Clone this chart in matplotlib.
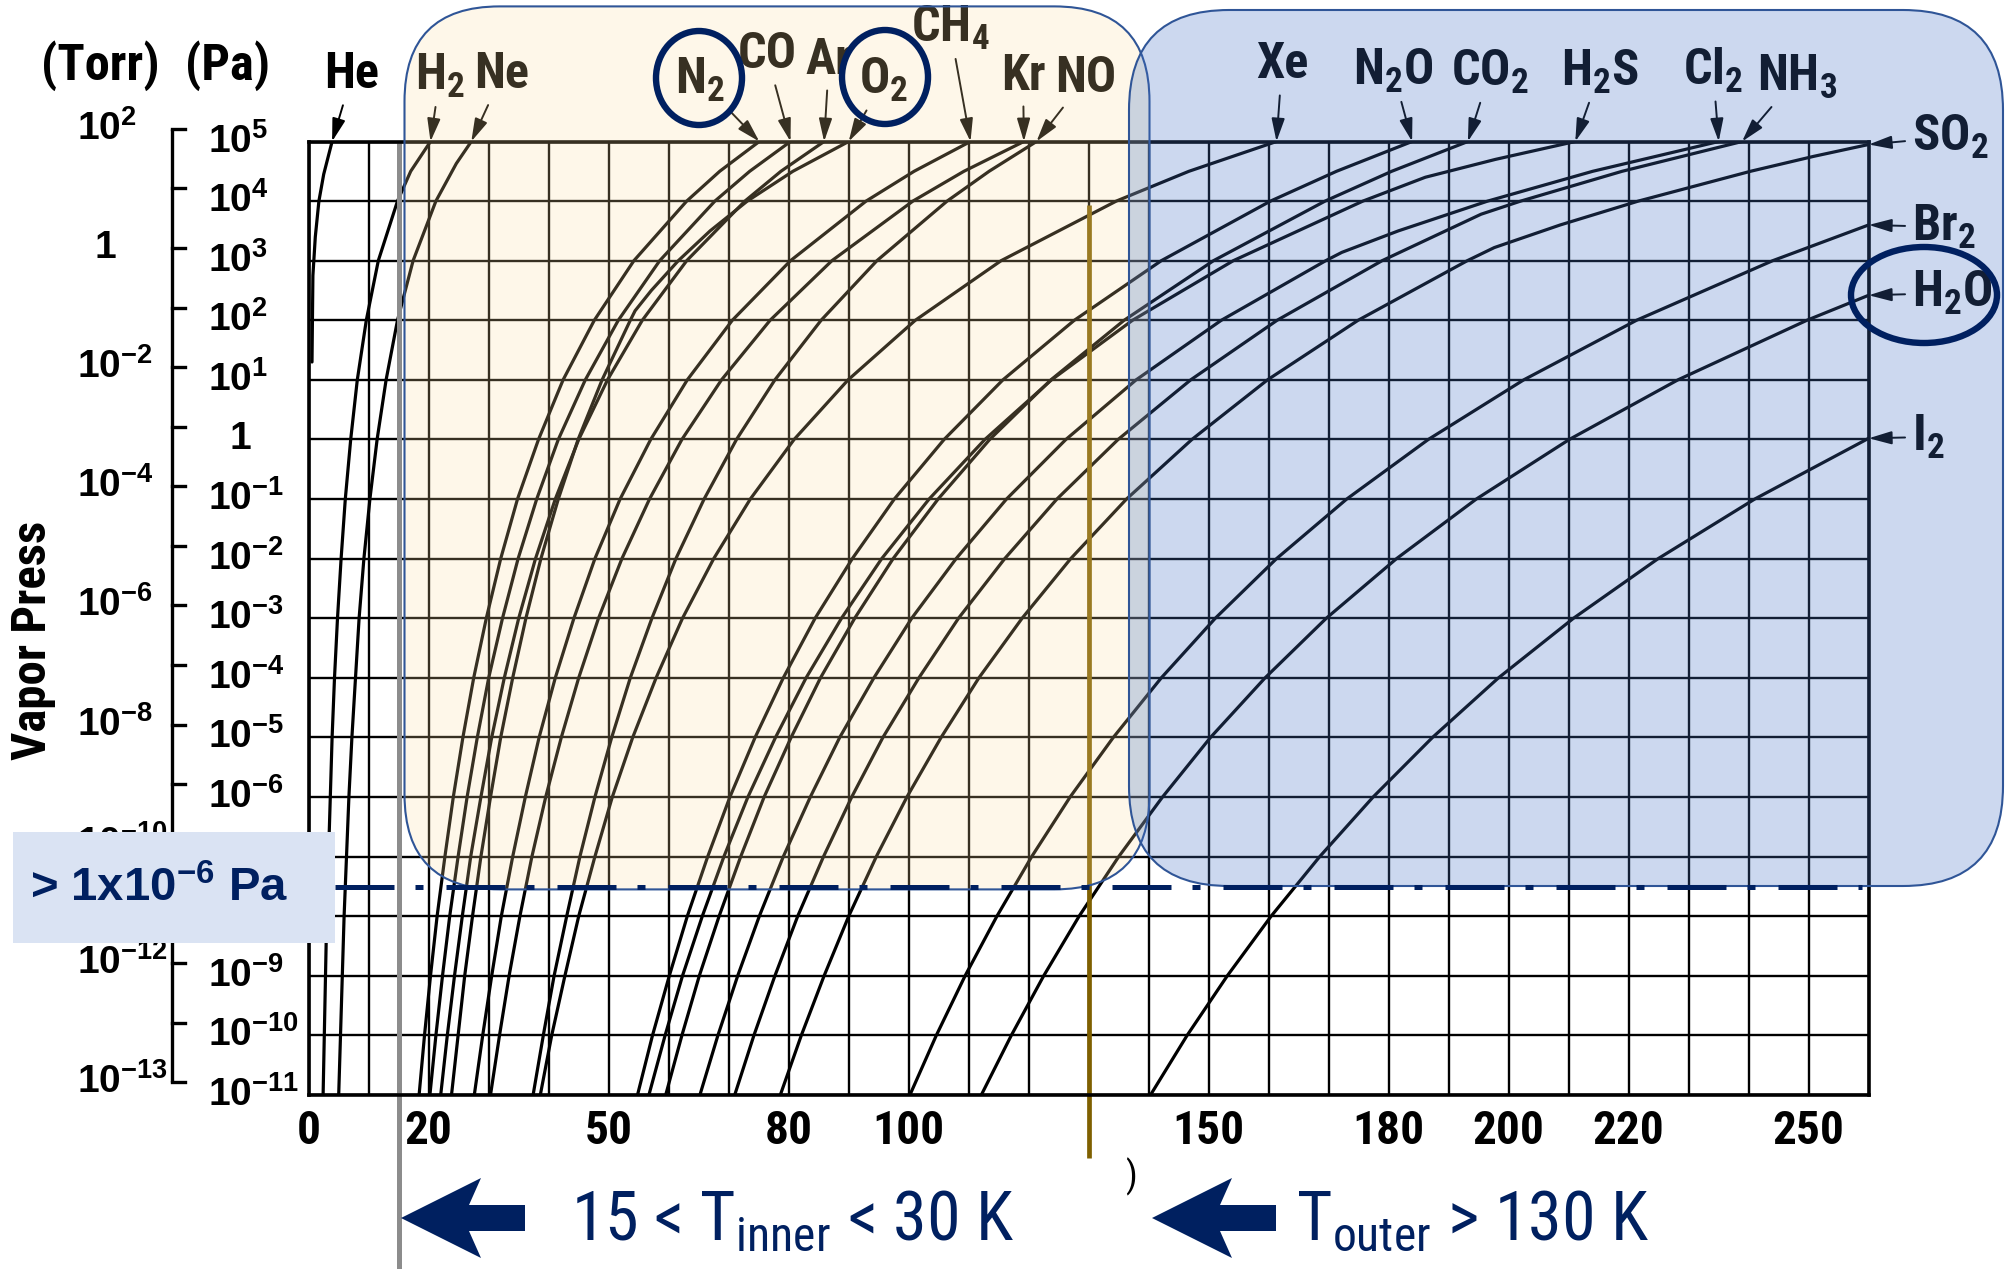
import os
import numpy as np
import matplotlib
matplotlib.use("Agg")
import matplotlib.pyplot as plt
from matplotlib import font_manager
from matplotlib.font_manager import FontProperties
from matplotlib.patches import FancyBboxPatch, Ellipse, Polygon, Rectangle
from matplotlib.ticker import FixedLocator, NullFormatter, NullLocator

W, H = 2007, 1269

# ---------------- data ----------------
# log10(vapour pressure / Pa) levels at which the temperatures (K) were read
log_p = [5, 4, 3, 2, 1, 0, -1, -2, -3, -4, -5, -6, -7, -8, -9, -10, -11]
log_p_top = [5, 4.5] + log_p[1:]

he_t = [3.9, 2.5, 1.7, 1.1, 0.7, 0.55]
he_p = [5.0, 4.45, 4.0, 3.4, 2.75, 1.3]

h2_t = [20.3, 17.0, 14.8, 11.6, 9.6, 8.1, 7.0, 6.1, 5.4, 4.8, 4.3, 3.9, 3.6, 3.3, 3.0, 2.8, 2.6, 2.4]
h2_p = log_p_top

ne_t = [27.1, 24.6, 21.2, 17.4, 14.8, 12.9, 11.4, 10.2, 9.2, 8.4, 7.8, 7.2, 6.7, 6.3, 5.9, 5.6, 5.3, 5.0]
ne_p = [5, 4.63] + log_p[1:]

n2_t = [75.1, 68.5, 63.0, 54.2, 47.6, 42.4, 38.3, 34.8, 32.0, 29.6, 27.5, 25.7, 24.1, 22.7, 21.4, 20.3, 19.3, 18.4]
co_t = [80.3, 73.5, 67.7, 58.5, 51.6, 46.1, 41.6, 38.0, 34.9, 32.3, 30.0, 28.1, 26.4, 24.9, 23.5, 22.3, 21.2, 20.2]
ar_t = [85.9, 78.7, 72.7, 63.0, 55.6, 49.8, 45.0, 41.1, 37.8, 35.0, 32.6, 30.5, 28.7, 27.0, 25.6, 24.3, 23.1, 22.0]

o2_t = [90.0, 80.7, 73.1, 66.9, 61.6, 57.1, 54.4, 53.6, 48.9, 44.9, 41.6, 38.7, 36.2, 34.0, 32.0,
        30.3, 28.7, 27.3, 26.0, 24.9, 23.8]
o2_p = [5, 4.5, 4, 3.5, 3, 2.5, 2.16] + log_p[3:]

ch4_t = [110.3, 100.9, 92.9, 80.3, 70.6, 63.1, 57.0, 51.9, 47.7, 44.2, 41.1, 38.4, 36.1, 34.0, 32.1, 30.5, 29.0, 27.6]
kr_t = [119.2, 109.2, 100.7, 87.2, 76.9, 68.8, 62.2, 56.8, 52.2, 48.3, 45.0, 42.1, 39.5, 37.2, 35.2, 33.4, 31.8, 30.3]
no_t = [121.3, 113.4, 106.4, 94.7, 85.4, 77.7, 71.3, 65.9, 61.2, 57.2, 53.6, 50.5, 47.7, 45.2, 43.0, 40.9, 39.1, 37.4]
xe_t = [161.3, 146.7, 134.6, 115.4, 101.1, 89.9, 80.9, 73.6, 67.5, 62.3, 57.9, 54.0, 50.6, 47.7, 45.0, 42.7, 40.5, 38.6]
n2o_t = [183.9, 171.3, 160.3, 142.1, 127.6, 115.7, 105.9, 97.6, 90.6, 84.4, 79.1, 74.4, 70.2, 66.5, 63.1, 60.1, 57.3, 54.8]
co2_t = [193.2, 180.5, 169.4, 150.8, 135.9, 123.7, 113.5, 104.9, 97.4, 91.0, 85.3, 80.4, 75.9, 72.0, 68.4, 65.1, 62.2, 59.5]

h2s_t = [211.1, 197.8, 186.1, 175.7, 154.1, 137.3, 123.8, 112.7, 103.4, 95.5, 88.8, 82.9, 77.8, 73.2, 69.2,
         65.6, 62.3, 59.4, 56.7]
h2s_p = [5, 4.7, 4.4] + log_p[1:]

cl2_t = [235.0, 214.0, 196.5, 181.6, 172.2, 169.5, 152.1, 137.9, 126.2, 116.3, 107.9, 100.5, 94.2, 88.5,
         83.6, 79.1, 75.1, 71.5, 68.2, 65.2]
cl2_p = [5, 4.5, 4, 3.5, 3.14] + log_p[2:]

nh3_t = [238.9, 218.9, 202.0, 195.4, 178.9, 161.4, 147.0, 134.9, 124.7, 116.0, 108.3, 101.7, 95.7, 90.5,
         85.8, 81.5, 77.7, 74.2, 71.0]
nh3_p = [5, 4.5, 4, 3.78] + log_p[2:]

so2_t = [260.0, 250.8, 240.3, 221.6, 208.6, 197.6, 193.1, 174.9, 159.8, 147.2, 136.3, 127.0, 118.9, 111.7,
         105.4, 99.7, 94.6, 90.0, 85.9, 82.1, 78.6]
so2_p = [4.95, 4.75, 4.5, 4, 3.6, 3.22] + log_p[2:]

br2_t = [260.0, 244.0, 221.3, 202.5, 186.6, 173.0, 161.3, 151.1, 142.1, 134.1, 126.9, 120.5, 114.7, 109.4, 104.6, 100.2]
br2_p = [3.6] + log_p[2:]

h2o_t = [260.0, 249.7, 228.2, 210.1, 194.6, 181.3, 169.6, 159.4, 150.3, 142.3, 135.0, 128.4, 122.5, 117.1, 112.1]
h2o_p = [2.42] + log_p[3:]

i2_t = [260.0, 241.0, 224.9, 210.8, 198.3, 187.3, 177.4, 168.5, 160.4, 153.1, 146.4, 140.3]
i2_p = [0.02] + log_p[6:]

temp_ticks = [0, 20, 50, 80, 100, 150, 180, 200, 220, 250]
pa_exponents = list(range(5, -12, -1))
torr_labels = ['10^{2}', '', '1', '', '10^{-2}', '', '10^{-4}', '', '10^{-6}', '',
               '10^{-8}', '', '10^{-10}', '', '10^{-12}', '', '10^{-13}']
torr_offset = 0.214          # Torr ladder sits this many decades above the Pa grid
t_inner, t_outer = 15, 130

gases = {
    'He': (he_t, he_p), 'H2': (h2_t, h2_p), 'Ne': (ne_t, ne_p),
    'N2': (n2_t, log_p_top), 'CO': (co_t, log_p_top), 'Ar': (ar_t, log_p_top),
    'O2': (o2_t, o2_p), 'CH4': (ch4_t, log_p_top), 'Kr': (kr_t, log_p_top),
    'NO': (no_t, log_p_top), 'Xe': (xe_t, log_p_top), 'N2O': (n2o_t, log_p_top),
    'CO2': (co2_t, log_p_top), 'H2S': (h2s_t, h2s_p), 'Cl2': (cl2_t, cl2_p),
    'NH3': (nh3_t, nh3_p), 'SO2': (so2_t, so2_p), 'Br2': (br2_t, br2_p),
    'H2O': (h2o_t, h2o_p), 'I2': (i2_t, i2_p),
}

# ---------------- fonts / colours ----------------
files = {}
for f in font_manager.fontManager.ttflist:
    files.setdefault(os.path.basename(f.fname).lower(), f.fname)


def first_file(names):
    for n in names:
        if n in files:
            return files[n]
    return None


nb_file = first_file(['liberationsansnarrow-bold.ttf', 'robotocondensed-bold.ttf',
                      'notosans-condensedbold.ttf', 'dejavusanscondensed-bold.ttf'])
nr_file = first_file(['liberationsansnarrow-regular.ttf', 'robotocondensed-regular.ttf',
                      'notosans-condensed.ttf', 'dejavusanscondensed.ttf'])
GROW = 1.1 if nb_file else 1.0


def narrow(size, bold=True):
    fn = nb_file if bold else nr_file
    if fn:
        return FontProperties(fname=fn, size=size * GROW)
    return FontProperties(family='Liberation Sans', weight='bold' if bold else 'normal', size=size)


def wide(size, bold=True):
    return FontProperties(family='Liberation Sans', weight='bold' if bold else 'normal', size=size)


NAVY = '#002060'


def sub(s):
    for d in '234':
        s = s.replace(d, '$_\\mathregular{%s}$' % d)
    return s


fig = plt.figure(figsize=(W / 100, H / 100), dpi=100)
ax = fig.add_axes([308.7 / W, (H - 1095) / H, 1560 / W, 953.5 / H])

for name, (t, p) in gases.items():
    ax.plot(t, 10.0 ** np.array(p), color='black', lw=2.3, solid_capstyle='round',
            solid_joinstyle='round')

ax.set_xlim(0, 260)
ax.set_yscale('log')
ax.set_ylim(1e-11, 1e5)
ax.set_xticks(temp_ticks, labels=[str(v) for v in temp_ticks])
ax.xaxis.set_minor_locator(FixedLocator(np.arange(0, 261, 10)))
ax.yaxis.set_major_locator(FixedLocator(10.0 ** np.arange(-11, 6)))
ax.yaxis.set_minor_locator(NullLocator())
ax.yaxis.set_major_formatter(NullFormatter())
ax.grid(True, which='both', color='black', lw=1.7)
ax.tick_params(which='both', length=0)
ax.tick_params(axis='x', pad=10)
for lab in ax.get_xticklabels():
    lab.set_fontproperties(narrow(31))
for sp in ax.spines.values():
    sp.set_linewidth(2.6)

# Pa labels
ytr = ax.get_yaxis_transform()
for e in pa_exponents:
    if e == 0:
        ax.text(-0.0440, 1.0, '1', transform=ytr, ha='center', va='center',
                fontproperties=wide(28), clip_on=False)
    else:
        ax.text(-0.0646, 10.0 ** e, '$\\mathregular{10^{%d}}$' % e, transform=ytr,
                ha='left', va='center', fontproperties=wide(28), clip_on=False)

# Torr ladder
torr_pos = [10.0 ** (5 + torr_offset - k) for k in range(len(torr_labels))]
ax.plot([-0.0876, -0.0876], [torr_pos[0], torr_pos[-1]], transform=ytr, color='black',
        lw=2.4, clip_on=False, solid_capstyle='butt')
for yv, lab in zip(torr_pos, torr_labels):
    ax.plot([-0.0876, -0.0790], [yv, yv], transform=ytr, color='black', lw=2.4, clip_on=False)
    if lab == '1':
        ax.text(-0.1306, yv, '1', transform=ytr, ha='center', va='center',
                fontproperties=wide(28), clip_on=False)
    elif lab:
        ax.text(-0.1485, yv, '$\\mathregular{%s}$' % lab, transform=ytr, ha='left', va='center',
                fontproperties=wide(28), clip_on=False)

fig.text(100 / W, 1 - 66 / H, '(Torr)', ha='center', va='center', fontproperties=narrow(33))
fig.text(228 / W, 1 - 66 / H, '(Pa)', ha='center', va='center', fontproperties=narrow(33))
fig.text(33 / W, 1 - 640 / H, 'Vapor Press', rotation=90, ha='center', va='center',
         fontproperties=narrow(32))

# temperature markers
xtr = ax.get_xaxis_transform()
ax.plot([t_inner, t_inner], [1.0, -0.19], transform=xtr, color='#8C8C8C', lw=3.6,
        clip_on=False, solid_capstyle='butt')
ax.plot([t_outer, t_outer], [0.9334, -0.0661], transform=xtr, color='#7F6000', lw=3.4,
        clip_on=False, solid_capstyle='butt')

# gas labels with leader arrows (x px, y px from top, alignment)
label_spots = {
    'He': (352, 75, 'center'), 'H2': (440, 76, 'center'), 'Ne': (502, 75, 'center'),
    'N2': (700, 80, 'center'), 'CO': (767, 55, 'center'), 'Ar': (829, 60, 'center'),
    'O2': (884, 80, 'center'), 'CH4': (950, 28, 'center'), 'Kr': (1023, 76, 'center'),
    'NO': (1086, 78, 'center'), 'Xe': (1282, 65, 'center'), 'N2O': (1393, 71, 'center'),
    'CO2': (1490, 72, 'center'), 'H2S': (1600, 72, 'center'), 'Cl2': (1713, 70, 'center'),
    'NH3': (1797, 77, 'center'), 'SO2': (1912, 137, 'left'), 'Br2': (1912, 227, 'left'),
    'H2O': (1912, 293, 'left'), 'I2': (1912, 437, 'left'),
}
for name, (lx, ly, ha) in label_spots.items():
    t, p = gases[name]
    ax.annotate(sub(name), xy=(t[0], 10.0 ** p[0]), xycoords='data',
                xytext=(lx, H - ly), textcoords='figure pixels', ha=ha, va='center',
                fontproperties=narrow(33), annotation_clip=False,
                arrowprops=dict(arrowstyle='-|>,head_length=0.7,head_width=0.2', color='black',
                                lw=1.4, shrinkA=3, shrinkB=0, mutation_scale=20))

# ---------------- overlay (pixel coordinates) ----------------
ov = fig.add_axes([0, 0, 1, 1], zorder=5)
ov.set_xlim(0, W)
ov.set_ylim(H, 0)
ov.axis('off')

ov.add_patch(FancyBboxPatch((404.5, 6.4), 745, 883, boxstyle='round,pad=0,rounding_size=95',
                            fc=(0.992, 0.859, 0.608, 0.22), ec='#2F5597', lw=1.5))
ov.add_patch(FancyBboxPatch((1129, 10), 874, 876, boxstyle='round,pad=0,rounding_size=100',
                            fc=(0.267, 0.447, 0.769, 0.27), ec='#2F5597', lw=1.5))

ov.add_patch(Rectangle((12.8, 832), 322, 111, fc='#DAE3F3', ec='none'))
ov.text(30, 889, '> $\\mathregular{1x10^{-6}}$ Pa', color=NAVY, ha='left', va='center',
        fontproperties=wide(34))
ov.plot([335, 1862], [886.5, 886.5], color=NAVY, lw=3.6, ls=(0, (11.8, 4.2, 1.6, 4.6)),
        dash_capstyle='butt')

for cx, cy, w, h in [(699, 78, 86, 94), (885, 77, 86, 94), (1924, 295, 146, 96)]:
    ov.add_patch(Ellipse((cx, cy), w, h, fill=False, ec=NAVY, lw=4.6))

for tip in (401, 1152):
    ov.add_patch(Polygon([(tip, 1218), (tip + 80, 1178), (tip + 68, 1205), (tip + 124, 1205),
                          (tip + 124, 1231), (tip + 68, 1231), (tip + 80, 1258)],
                         closed=True, fc=NAVY, ec='none'))

ov.text(571, 1240, '15 < T$_\\mathregular{inner}$ < 30 K', color=NAVY, ha='left', va='baseline',
        fontproperties=narrow(44.5, bold=False))
ov.text(1296, 1240, 'T$_\\mathregular{outer}$ > 130 K', color=NAVY, ha='left', va='baseline',
        fontproperties=narrow(44.5, bold=False))
ov.text(1131, 1177, ')', color='black', ha='center', va='center', fontproperties=narrow(24, bold=False))

fig.savefig('out.png', dpi=100)
